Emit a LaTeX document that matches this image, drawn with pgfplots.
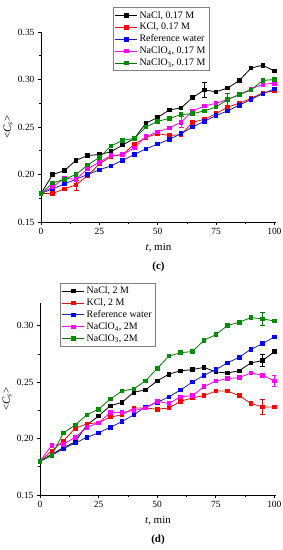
\documentclass[border=0pt]{standalone}
\usepackage{fontspec}
\setmainfont{Liberation Serif}
\usepackage{pgfplots}
\usepackage{pgfplotstable}
\pgfplotsset{compat=1.18}

\definecolor{cblack}{RGB}{0,0,0}
\definecolor{cred}{RGB}{255,0,0}
\definecolor{credl}{RGB}{215,20,20}
\definecolor{cblue}{RGB}{0,0,255}
\definecolor{cbluel}{RGB}{30,30,170}
\definecolor{cmag}{RGB}{255,0,255}
\definecolor{cgreen}{RGB}{0,140,0}
\definecolor{cgreenl}{RGB}{0,120,0}

\pgfplotstableread{
t   nacl  kcl   ref   clo4  clo3
0   0.180 0.180 0.180 0.180 0.180
5   0.200 0.180 0.185 0.187 0.191
10  0.204 0.185 0.190 0.196 0.195
15  0.215 0.189 0.195 0.195 0.200
20  0.220 0.199 0.200 0.206 0.210
25  0.221 0.211 0.205 0.213 0.218
30  0.224 0.219 0.209 0.220 0.230
35  0.231 0.221 0.215 0.221 0.236
40  0.238 0.232 0.221 0.228 0.238
45  0.254 0.239 0.227 0.240 0.250
50  0.260 0.243 0.232 0.245 0.256
55  0.268 0.241 0.237 0.249 0.259
60  0.270 0.242 0.243 0.255 0.263
65  0.281 0.255 0.250 0.267 0.264
70  0.289 0.258 0.256 0.272 0.267
75  0.287 0.264 0.262 0.275 0.271
80  0.291 0.271 0.267 0.279 0.279
85  0.299 0.275 0.273 0.284 0.284
90  0.312 0.280 0.279 0.290 0.289
95  0.315 0.286 0.285 0.295 0.299
100 0.309 0.288 0.290 0.296 0.300
}\datac

\pgfplotstableread{
t   nacl  kcl   ref   clo4  clo3
0   0.180 0.180 0.180 0.180 0.180
5   0.186 0.189 0.185 0.194 0.185
10  0.192 0.198 0.191 0.195 0.205
15  0.197 0.209 0.196 0.201 0.212
20  0.212 0.213 0.201 0.210 0.221
25  0.220 0.214 0.205 0.214 0.226
30  0.229 0.219 0.210 0.223 0.235
35  0.232 0.221 0.215 0.223 0.242
40  0.241 0.227 0.221 0.225 0.244
45  0.243 0.227 0.228 0.227 0.251
50  0.251 0.226 0.232 0.233 0.262
55  0.257 0.227 0.237 0.231 0.273
60  0.260 0.233 0.243 0.237 0.276
65  0.261 0.236 0.250 0.238 0.277
70  0.263 0.238 0.256 0.246 0.287
75  0.259 0.242 0.261 0.251 0.292
80  0.258 0.242 0.267 0.253 0.300
85  0.260 0.238 0.272 0.254 0.303
90  0.267 0.231 0.279 0.258 0.307
95  0.269 0.228 0.284 0.256 0.306
100 0.277 0.228 0.290 0.251 0.304
}\datad

\pgfplotsset{
  panel/.style={
    scale only axis,
    axis x line*=bottom, axis y line*=left,
    xmin=0, xmax=100.7,
    xtick={0,25,50,75,100},
    minor x tick num=1,
    minor y tick num=1,
    tick align=outside,
    major tick length=3bp, minor tick length=2bp,
    every tick/.style={black, line width=0.6bp},
    axis line style={black, line width=0.7bp},
    ticklabel style={font=\fontsize{9.5}{10}\selectfont},
    /pgf/number format/assume math mode=true,
    y tick label style={/pgf/number format/.cd, fixed, fixed zerofill, precision=2},
    xlabel={\textit{t}, min},
    ylabel={\textless\textit{C}\textsubscript{\textit{s}}\textgreater},
    label style={font=\fontsize{11}{12}\selectfont},
    xlabel style={at={(axis description cs:0.5,0)}, anchor=center, yshift=-26bp},
    ylabel style={at={(axis description cs:0,0.5)}, anchor=center, yshift=33bp},
    legend cell align=left,
    legend style={draw=gray, line width=0.6bp, font=\fontsize{10}{11}\selectfont,
      nodes={font=\fontsize{10}{11}\selectfont},
      anchor=north west, inner sep=1.5bp, row sep=-0.5bp},
    legend image code/.code={\draw[mark repeat=2,mark phase=2] plot coordinates {(0bp,0bp) (11bp,0bp) (22bp,0bp)};},
  },
  sb/.style={line width=0.8bp, mark=square*, mark size=1.8bp},
  ebar/.style={forget plot, sb,
    error bars/y dir=both, error bars/y explicit,
    error bars/error bar style={line width=0.7bp},
    error bars/error mark options={rotate=90, mark size=2.5bp, line width=0.7bp}},
}

\begin{document}
\begin{tikzpicture}
\useasboundingbox (0,0) rectangle (283bp,550bp);

% ---------- panel (c) ----------
\begin{axis}[panel,
  at={(41bp,328bp)}, anchor=south west,
  width=235bp, height=190bp,
  ymin=0.15, ymax=0.35,
  ytick={0.15,0.20,0.25,0.30,0.35},
  legend style={at={(0.306,1.13)}},
  after end axis/.code={\node[font=\bfseries\fontsize{11}{12}\selectfont] at (axis description cs:0.5,0) [yshift=-45bp] {(c)};},
]
\addplot[sb, cblack, mark options={fill=cblack}] table[x=t,y=nacl] {\datac};
\addlegendentry{NaCl, 0.17 M}
\addplot[sb, credl, mark options={draw=cred, fill=cred}] table[x=t,y=kcl] {\datac};
\addlegendentry{KCl, 0.17 M}
\addplot[sb, cbluel, mark options={draw=cblue, fill=cblue}] table[x=t,y=ref] {\datac};
\addlegendentry{Reference water}
\addplot[sb, cmag, mark options={fill=cmag}] table[x=t,y=clo4] {\datac};
\addlegendentry{NaClO\textsubscript{4}, 0.17 M}
\addplot[sb, cgreenl, mark options={draw=cgreen, fill=cgreen}] table[x=t,y=clo3] {\datac};
\addlegendentry{NaClO\textsubscript{3}, 0.17 M}
\addplot[ebar, color=cblack, mark options={fill=cblack}] coordinates {(70,0.289) +- (0,0.008)};
\addplot[ebar, color=credl, mark options={draw=cred, fill=cred}] coordinates {(15,0.189) +- (0,0.0053)};
\addplot[ebar, color=cmag, mark options={fill=cmag}] coordinates {(60,0.255) +- (0,0.0057)};
\addplot[ebar, color=cgreenl, mark options={draw=cgreen, fill=cgreen}] coordinates {(80,0.279) +- (0,0.006)};
\end{axis}

% ---------- panel (d) ----------
\begin{axis}[panel,
  at={(40bp,55bp)}, anchor=south west,
  width=236bp, height=192bp,
  ymin=0.15, ymax=0.32,
  ytick={0.15,0.20,0.25,0.30},
  legend style={at={(0.085,1.104)}},
  after end axis/.code={\node[font=\bfseries\fontsize{11}{12}\selectfont] at (axis description cs:0.5,0) [yshift=-45bp] {(d)};},
]
\addplot[sb, cblack, mark options={fill=cblack}] table[x=t,y=nacl] {\datad};
\addlegendentry{NaCl, 2 M}
\addplot[sb, credl, mark options={draw=cred, fill=cred}] table[x=t,y=kcl] {\datad};
\addlegendentry{KCl, 2 M}
\addplot[sb, cbluel, mark options={draw=cblue, fill=cblue}] table[x=t,y=ref] {\datad};
\addlegendentry{Reference water}
\addplot[sb, cmag, mark options={fill=cmag}] table[x=t,y=clo4] {\datad};
\addlegendentry{NaClO\textsubscript{4}, 2M}
\addplot[sb, cgreenl, mark options={draw=cgreen, fill=cgreen}] table[x=t,y=clo3] {\datad};
\addlegendentry{NaClO\textsubscript{3}, 2M}
\addplot[ebar, color=cblack, mark options={fill=cblack}] coordinates {(95,0.269) +- (0,0.0055)};
\addplot[ebar, color=credl, mark options={draw=cred, fill=cred}] coordinates {(95,0.228) +- (0,0.0066)};
\addplot[ebar, color=cmag, mark options={fill=cmag}] coordinates {(100,0.251) +- (0,0.005)};
\addplot[ebar, color=cgreenl, mark options={draw=cgreen, fill=cgreen}] coordinates {(95,0.306) +- (0,0.0055)};
\end{axis}
\end{tikzpicture}
\end{document}
